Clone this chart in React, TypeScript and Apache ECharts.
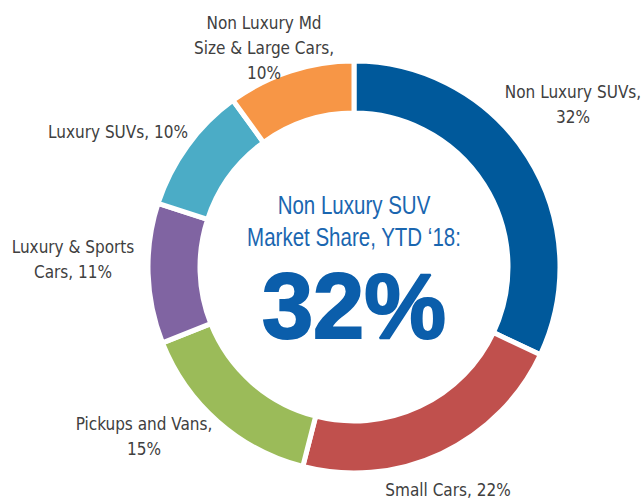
import React, { useEffect, useRef } from "react";
import * as echarts from "echarts";

const categories = [
  "Non Luxury SUVs",
  "Small Cars",
  "Pickups and Vans",
  "Luxury & Sports\nCars",
  "Luxury SUVs",
  "Non Luxury Md\nSize & Large Cars",
];
const shares = [32, 22, 15, 11, 10, 10];
const valueOnNewLine = [true, false, true, false, false, true];
const colors = ["#00599b", "#c0504d", "#9bbb59", "#8064a2", "#4bacc6", "#f79646"];

const centerTitle = ["Non Luxury SUV", "Market Share, YTD \u201818:"];
const centerValue = "32%";

// label centre positions (layout only)
const labelPos: [number, number][] = [
  [573, 104],
  [448, 490],
  [144, 436],
  [73, 259],
  [118, 132],
  [264, 48],
];

const W = 643;
const H = 501;
const CX = 354;
const CY = 267;
const COND = "'DejaVu Sans Condensed', 'Liberation Sans Narrow', sans-serif";

export default function App() {
  const ref = useRef<HTMLDivElement>(null);
  useEffect(() => {
    document.body.style.margin = "0";
    const chart = echarts.init(ref.current!, null, { renderer: "svg" });
    chart.setOption({
      animation: false,
      backgroundColor: "#ffffff",
      series: [
        {
          type: "pie",
          center: [CX, CY],
          radius: [154, 206],
          startAngle: 90,
          clockwise: true,
          avoidLabelOverlap: false,
          itemStyle: { borderColor: "#ffffff", borderWidth: 5 },
          label: {
            show: true,
            position: "outside",
            color: "#404040",
            fontFamily: COND,
            fontSize: 17,
            lineHeight: 25,
            formatter: (p: any) =>
              `${p.name},${valueOnNewLine[p.dataIndex] ? "\n" : " "}${p.value}%`,
          },
          labelLine: { show: false },
          labelLayout: (p: any) => ({
            x: labelPos[p.dataIndex][0],
            y: labelPos[p.dataIndex][1],
            align: "center",
            verticalAlign: "middle",
          }),
          emphasis: { disabled: true },
          data: categories.map((c, i) => ({
            name: c,
            value: shares[i],
            itemStyle: { color: colors[i] },
            label: { align: "center" },
          })),
        },
      ],
      graphic: [
        {
          type: "text",
          x: CX,
          y: 205,
          scaleX: 0.82,
          style: {
            text: centerTitle[0],
            fill: "#1a66b0",
            font: `25px 'Liberation Sans', Arial, sans-serif`,
            textAlign: "center",
            textVerticalAlign: "middle",
          },
        },
        {
          type: "text",
          x: CX,
          y: 237,
          scaleX: 0.82,
          style: {
            text: centerTitle[1],
            fill: "#1a66b0",
            font: `25px 'Liberation Sans', Arial, sans-serif`,
            textAlign: "center",
            textVerticalAlign: "middle",
          },
        },
        {
          type: "text",
          x: CX,
          y: 306,
          style: {
            text: centerValue,
            fill: "#0b5eab",
            font: `bold 92px 'Liberation Sans', Arial, sans-serif`,
            textAlign: "center",
            textVerticalAlign: "middle",
            stroke: "#0b5eab",
            lineWidth: 2,
          },
        },
      ],
    });
    return () => chart.dispose();
  }, []);
  return <div ref={ref} style={{ width: W, height: H }} />;
}
